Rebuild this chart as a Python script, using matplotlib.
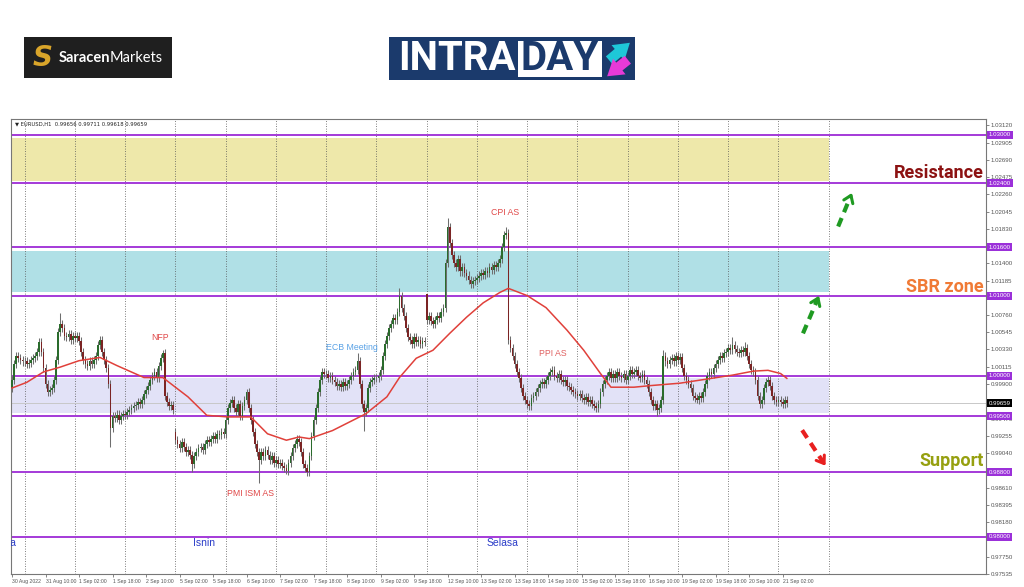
import numpy as np
import matplotlib.pyplot as plt
from matplotlib.patches import Rectangle, FancyArrowPatch

W, H = 1024, 587

# EURUSD H1 closes, pips from 1.0000, 30 Aug 18:00 .. 21 Sep 04:00
closes = [
    -5, 15, 25, 22, 20, 18,
    # 31 Aug
    18, 15, 16, 20, 22, 25, 30, 42, 30, 10, -10, -20, -18, -15, -5, 20, 55, 65, 60, 50, 48, 52, 45, 50,
    # 1 Sep
    47, 50, 44, 30, 20, 15, 12, 18, 15, 20, 25, 38, 45, 30, 20, 10, -10, -65, -50, -52, -48, -55, -50, -47,
    # 2 Sep
    -48, -45, -42, -40, -38, -36, -33, -35, -30, -22, -18, -12, -5, 0, 5, -2, 12, 22, 28, -25, -32, -38, -36, -42,
    # 5 Sep
    -80, -85, -90, -82, -88, -95, -92, -98, -110, -100, -95, -90, -88, -92, -85, -80, -82, -78, -75, -78, -72, -74, -70, -72,
    # 6 Sep
    -55, -40, -34, -30, -40, -45, -35, -50, -38, -30, -20, -40, -55, -70, -85, -95, -105, -95, -100, -92, -98, -105, -100, -108,
    # 7 Sep
    -105, -110, -108, -112, -115, -118, -108, -100, -90, -85, -78, -82, -95, -110, -115, -120, -100, -75, -55, -40, -20, -5, 5, 2,
    # 8 Sep
    3, -2, 0, -5, -8, -12, -10, -14, -8, -12, -10, -5, 0, 5, 8, 18, -10, -35, -45, -40, -15, -8, -5, -3,
    # 9 Sep
    -2, 0, 8, 25, 40, 50, 60, 65, 72, 70, 80, 100, 85, 75, 60, 48, 45, 40, 48, 42, 45, 40, 44, 42,
    # 12 Sep
    70, 75, 68, 65, 70, 75, 72, 80, 85, 140, 185, 165, 150, 140, 135, 145, 130, 135, 128, 125, 120, 115, 118, 120,
    # 13 Sep
    122, 125, 128, 126, 130, 128, 135, 132, 138, 135, 140, 145, 160, 175, 178, 45, 35, 25, 15, 5, -2, -15, -25, -30,
    # 14 Sep
    -35, -38, -28, -25, -20, -15, -10, -8, -10, -5, 0, 5, 8, 0, -3, 2, -5, -8, -5, -12, -14, -18, -20, -22,
    # 15 Sep
    -25, -22, -28, -30, -26, -32, -30, -35, -38, -40, -35, -20, -10, -5, 0, 5, -2, 2, -3, 5, 0, -2, 3, -5,
    # 16 Sep
    0, 8, 2, 5, 8, 0, -2, 3, -5, -10, -20, -30, -38, -35, -42, -40, -30, 25, 18, 15, 20, 22, 18, 25,
    # 19 Sep
    20, 24, 10, 0, -5, -10, -15, -25, -28, -30, -25, -28, -20, -10, 0, 5, 3, 10, 15, 20, 25, 22, 28, 30,
    # 20 Sep
    35, 32, 38, 33, 30, 28, 32, 30, 35, 25, 15, 8, 5, -5, -25, -35, -30, -15, -8, -5, -12, -25, -30, -32,
    # 21 Sep
    -30, -33, -35, -30, -34,
]
gap_opens = {0: -15, 78: -70, 198: 102}
high_marks = {23: 78, 72: 32, 112: -16, 165: 28, 185: 110, 198: 102, 208: 196,
              236: 185, 258: 13, 298: 12, 311: 32, 344: 48, 350: 42}
low_marks = {47: -88, 86: -120, 118: -133, 131: -122, 141: -124, 168: -68,
             247: -42, 279: -45, 308: -50, 327: -34, 357: -40}

# red moving average
ma_idx = [0, 7, 15, 23, 32, 42, 50, 63, 72, 84, 93, 103, 114, 122, 131, 137, 142, 153,
          169, 179, 185, 193, 201, 209, 217, 225, 233, 237, 246, 255, 265, 273, 281, 286,
          297, 305, 319, 329, 344, 354, 361, 367, 370]
ma_val = [-15, -8, 5, 11, 19, 23, 13, -2, -2, -26, -49, -51, -51, -72, -80, -76, -78, -68,
          -47, -26, -2, 22, 32, 53, 73, 91, 104, 109, 100, 85, 57, 32, 3, -14,
          -14, -12, -9, -5, 1, 6, 7, 3, -3]

levels = [1.0300, 1.0240, 1.0160, 1.0100, 1.0000, 0.9950, 0.9880, 0.9800]
zones = [(1.0243, 1.0296, '#eee8aa'), (1.0105, 1.0156, '#b0e0e6'), (0.9954, 0.9997, '#e2e2f7')]
last_price = 0.99659

yticks = [1.03120, 1.02905, 1.02690, 1.02475, 1.02260, 1.02045, 1.01830, 1.01400,
          1.01185, 1.00760, 1.00545, 1.00330, 1.00115, 0.99900, 0.99470,
          0.99255, 0.99040, 0.98610, 0.98395, 0.98180, 0.97965, 0.97750, 0.97535]
xlabels = ['30 Aug 2022', '31 Aug 10:00', '1 Sep 02:00', '1 Sep 18:00', '2 Sep 10:00',
           '5 Sep 02:00', '5 Sep 18:00', '6 Sep 10:00', '7 Sep 02:00', '7 Sep 18:00',
           '8 Sep 10:00', '9 Sep 02:00', '9 Sep 18:00', '12 Sep 10:00', '13 Sep 02:00',
           '13 Sep 18:00', '14 Sep 10:00', '15 Sep 02:00', '15 Sep 18:00', '16 Sep 10:00',
           '19 Sep 02:00', '19 Sep 18:00', '20 Sep 10:00', '21 Sep 02:00']

plt.rcParams['font.family'] = ['Liberation Sans', 'DejaVu Sans']
fig = plt.figure(figsize=(W / 100, H / 100), dpi=100)
ax = fig.add_axes([11 / W, 1 - 574 / H, 975 / W, 455 / H])
ax.set_xlim(-0.5, 465.1)
ax.set_ylim(0.97540, 1.03198)

def px(p):
    return 1 + np.asarray(p, float) / 10000

# zones and levels
for lo_, hi_, col in zones:
    ax.add_patch(Rectangle((-1, lo_), 391, hi_ - lo_, color=col, lw=0, zorder=1))
for d in range(6, 391, 24):
    ax.axvline(d, color='#555555', ls=(0, (1, 2)), lw=0.6, zorder=1.5)
for lv in levels:
    ax.axhline(lv, color='#a43ad8', lw=1.4, zorder=2.5)
    ax.text(1.003, lv, f'{lv:.5f}', transform=ax.get_yaxis_transform(), fontsize=4.4,
            color='white', va='center', ha='left', zorder=10, clip_on=False,
            bbox=dict(boxstyle='square,pad=0.25', fc='#9b30d9', ec='none'))
ax.axhline(last_price, color='#c8c8c8', lw=0.7, zorder=2)
ax.text(1.003, last_price, f'{last_price:.5f}', transform=ax.get_yaxis_transform(), fontsize=4.4,
        color='white', va='center', ha='left', zorder=10, clip_on=False,
        bbox=dict(boxstyle='square,pad=0.25', fc='black', ec='none'))

# candles
c = np.array(closes, float)
o = np.r_[c[0], c[:-1]]
for k, v in gap_opens.items():
    o[k] = v
hi = np.maximum(o, c) + 5
lo = np.minimum(o, c) - 5
for k, v in high_marks.items():
    hi[k] = v
for k, v in low_marks.items():
    lo[k] = v
idx = np.arange(len(c))
up = c >= o
ax.vlines(idx, px(lo), px(hi), color='#6e6e6e', lw=0.75, zorder=3)
body = np.maximum(np.abs(c - o), 1.0) / 10000
bottom = px(np.minimum(o, c))
ax.bar(idx[up], body[up], bottom=bottom[up], width=0.8, color='#2a6b2c', lw=0, zorder=4)
ax.bar(idx[~up], body[~up], bottom=bottom[~up], width=0.8, color='#7b2424', lw=0, zorder=4)

ax.plot(ma_idx, px(ma_val), color='#e0403a', lw=1.1, zorder=5)

# event notes
notes = [(70.7, 1.0048, 'NFP', '#e04848'), (235.4, 1.0203, 'CPI AS', '#e04848'),
         (162.4, 1.0036, 'ECB Meeting', '#5aa2e6'), (258.4, 1.0028, 'PPI AS', '#e06060'),
         (113.7, 0.9854, 'PMI ISM AS', '#e04848')]
for x, y, s, col in notes:
    ax.text(x, y, s, color=col, fontsize=6.3, ha='center', va='center', zorder=6)
for x, s in [(91.7, 'Isnin'), (234, 'Selasa'), (-5.5, 'Selasa')]:
    ax.text(x, 0.9792, s, color='#2a3cc8', fontsize=7.5, ha='center', va='center', zorder=6,
            clip_on=True)

big = [(1.0253, 'Resistance', '#8c1212'), (1.0111, 'SBR zone', '#f07a35'), (0.9894, 'Support', '#96a010')]
for y, s, col in big:
    ax.text(0.998, y, s, transform=ax.get_yaxis_transform(), ha='right', va='center',
            fontsize=13, fontweight='bold', color=col, family='Roboto', zorder=7)

def dashed_arrow(x0, y0, x1, y1, col):
    ax.plot([x0, x0 + (x1 - x0) * 0.85], [y0, y0 + (y1 - y0) * 0.85], color=col, lw=3,
            dashes=(2.2, 1.5), solid_capstyle='butt', zorder=7)
    ax.annotate('', xy=(x1, y1), xytext=(x0 + (x1 - x0) * 0.75, y0 + (y1 - y0) * 0.75),
                arrowprops=dict(arrowstyle='->,head_length=0.5,head_width=0.35', color=col, lw=2.2),
                zorder=7)

dashed_arrow(394.5, 1.0186, 401.6, 1.0231, '#1f9a22')
dashed_arrow(377.7, 1.0053, 385.9, 1.0103, '#1f9a22')
dashed_arrow(377.3, 0.99325, 389.2, 0.98853, '#e82020')

ax.text(0.004, 0.995, '\u25bc EURUSD,H1  0.99656 0.99711 0.99618 0.99659', transform=ax.transAxes,
        fontsize=3.8, va='top', ha='left', color='#222222', zorder=8, family=['DejaVu Sans'])

# axes styling
ax.yaxis.tick_right()
ax.set_yticks(yticks)
ax.set_yticklabels([f'{v:.5f}' for v in yticks], fontsize=4.4, color='#333333')
ax.set_xticks(np.arange(0, 369, 16))
ax.set_xticklabels(xlabels, fontsize=3.7, color='#333333', ha='left')
ax.tick_params(axis='both', length=2, width=0.5, pad=1.5, colors='#555555')
for sp in ax.spines.values():
    sp.set_color('#777777')
    sp.set_linewidth(0.8)

# logos
def fig_box(x, y, w, h, col):
    fig.add_artist(Rectangle((x / W, 1 - (y + h) / H), w / W, h / H, transform=fig.transFigure,
                             color=col, lw=0))

fig_box(24, 37, 148, 41, '#1f1f1f')
fig.text(43 / W, 1 - 58 / H, 'S', fontsize=20, fontweight='bold', style='italic', color='#d9a52a',
         ha='center', va='center', family='DejaVu Sans')
fig.text(110 / W, 1 - 57.5 / H, 'Saracen', fontsize=10.5, fontweight='bold', color='white',
         ha='right', va='center', family='Lato')
fig.text(110 / W, 1 - 57.5 / H, 'Markets', fontsize=10.5, color='white', ha='left', va='center', family='Lato')

fig_box(389, 37, 246, 43, '#1b3a6c')
fig_box(518, 41, 84, 36, 'white')
fig.text(457 / W, 1 - 59 / H, 'INTRA', fontsize=29, fontweight='bold', color='white',
         ha='center', va='center', family='Roboto')
fig.text(560 / W, 1 - 59 / H, 'DAY', fontsize=29, fontweight='bold', color='#1b3a6c',
         ha='center', va='center', family='Roboto')
fig.add_artist(FancyArrowPatch((607 / W, 1 - 62 / H), (632 / W, 1 - 41 / H), transform=fig.transFigure,
                               arrowstyle='simple,head_length=0.7,head_width=0.9,tail_width=0.45',
                               mutation_scale=16, color='#1ec8d8', lw=0))
fig.add_artist(FancyArrowPatch((630 / W, 1 - 58 / H), (605 / W, 1 - 78 / H), transform=fig.transFigure,
                               arrowstyle='simple,head_length=0.7,head_width=0.9,tail_width=0.45',
                               mutation_scale=16, color='#e83ad8', lw=0))

fig.savefig('out.png', dpi=100, facecolor='white')
